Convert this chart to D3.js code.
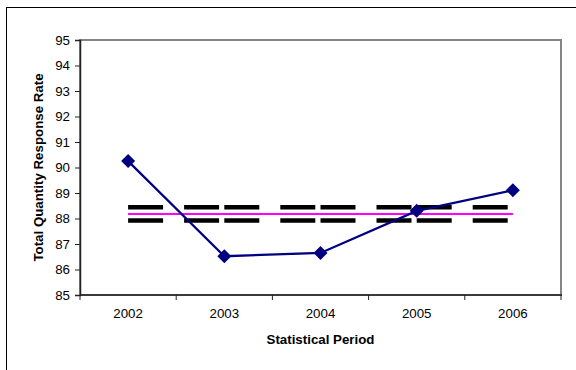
<!DOCTYPE html>
<html>
<head>
<meta charset="utf-8">
<script src="https://cdn.jsdelivr.net/npm/d3@7"></script>
<style>
  body { margin: 0; background: #fff; }
  svg text { font-family: "Liberation Sans", Arial, sans-serif; fill: #000; }
</style>
</head>
<body>
<svg id="chart" width="576" height="370"></svg>
<script>
// --- data ---
const periods = ['2002', '2003', '2004', '2005', '2006'];
const rates = [90.25, 86.52, 86.65, 88.3, 89.11];
const meanLine = [88.18, 88.18, 88.18, 88.18, 88.18];
const upperLimit = [88.44, 88.44, 88.44, 88.44, 88.44];
const lowerLimit = [87.92, 87.92, 87.92, 87.92, 87.92];
const yTicks = [85, 86, 87, 88, 89, 90, 91, 92, 93, 94, 95];

const svg = d3.select('#chart');
const plot = { left: 80, right: 561, top: 40, bottom: 295 };
const fs = 13.3;

// outer chart frame (runs off the right and bottom)
svg.append('rect')
    .attr('x', 6.5).attr('y', 7.5)
    .attr('width', 620).attr('height', 420)
    .attr('fill', 'none').attr('stroke', '#000').attr('stroke-width', 1);

const x = d3.scaleBand().domain(periods).range([plot.left, plot.right]).padding(0);
const y = d3.scaleLinear().domain([85, 95]).range([plot.bottom, plot.top]);
const cx = d => x(d) + x.bandwidth() / 2;

// plot area border (grey)
svg.append('rect')
    .attr('x', plot.left).attr('y', plot.top)
    .attr('width', plot.right - plot.left).attr('height', plot.bottom - plot.top)
    .attr('fill', 'none').attr('stroke', '#858585').attr('stroke-width', 2);

// axes
const yAxis = svg.append('g')
    .attr('transform', `translate(${plot.left},0)`)
    .call(d3.axisLeft(y).tickValues(yTicks).tickSize(5).tickPadding(5).tickFormat(d3.format('d')));
yAxis.select('.domain').attr('stroke', '#222').attr('stroke-width', 1.5);
yAxis.selectAll('.tick line').attr('stroke', '#222');
yAxis.selectAll('text').attr('font-size', fs).attr('font-family', '"Liberation Sans", Arial, sans-serif');

// x axis: ticks at category boundaries
const xAxis = svg.append('g').attr('transform', `translate(0,${plot.bottom})`);
xAxis.append('line')
    .attr('x1', plot.left).attr('x2', plot.right + 1)
    .attr('stroke', '#222').attr('stroke-width', 1.5);
const bounds = periods.map(p => x(p)).concat([x.range()[1]]);
xAxis.selectAll('line.tk').data(bounds).join('line')
    .attr('class', 'tk')
    .attr('x1', d => d).attr('x2', d => d)
    .attr('y1', 0).attr('y2', 5)
    .attr('stroke', '#222');
xAxis.selectAll('text').data(periods).join('text')
    .attr('x', d => cx(d)).attr('y', 23)
    .attr('text-anchor', 'middle').attr('font-size', fs)
    .text(d => d);

// axis titles
svg.append('text')
    .attr('x', (plot.left + plot.right) / 2).attr('y', 344)
    .attr('text-anchor', 'middle').attr('font-size', fs).attr('font-weight', 'bold')
    .text('Statistical Period');
svg.append('text')
    .attr('transform', `translate(43,${(plot.top + plot.bottom) / 2}) rotate(-90)`)
    .attr('text-anchor', 'middle').attr('font-size', fs).attr('font-weight', 'bold')
    .text('Total Quantity Response Rate');

// control limits: dashed, pattern restarts on every segment
function segments(vals) {
    return vals.slice(1).map((v, i) => ({ p0: periods[i], v0: vals[i], p1: periods[i + 1], v1: v }));
}
[upperLimit, lowerLimit].forEach(vals => {
    svg.append('g').selectAll('line').data(segments(vals)).join('line')
        .attr('x1', d => cx(d.p0)).attr('y1', d => y(d.v0))
        .attr('x2', d => cx(d.p1)).attr('y2', d => y(d.v1))
        .attr('stroke', '#000').attr('stroke-width', 4.5)
        .attr('stroke-dasharray', '35,21');
});

// mean line
svg.append('path')
    .datum(meanLine)
    .attr('fill', 'none').attr('stroke', '#ff00ff').attr('stroke-width', 2)
    .attr('d', d3.line().x((d, i) => cx(periods[i])).y(d => y(d)));

// response rate series
svg.append('path')
    .datum(rates)
    .attr('fill', 'none').attr('stroke', '#000080').attr('stroke-width', 2.25)
    .attr('d', d3.line().x((d, i) => cx(periods[i])).y(d => y(d)));

const diamond = d3.symbol(d3.symbolSquare, 98);
svg.append('g').selectAll('path').data(rates).join('path')
    .attr('transform', (d, i) => `translate(${cx(periods[i])},${y(d)}) rotate(45)`)
    .attr('d', diamond)
    .attr('fill', '#000080');
</script>
</body>
</html>
